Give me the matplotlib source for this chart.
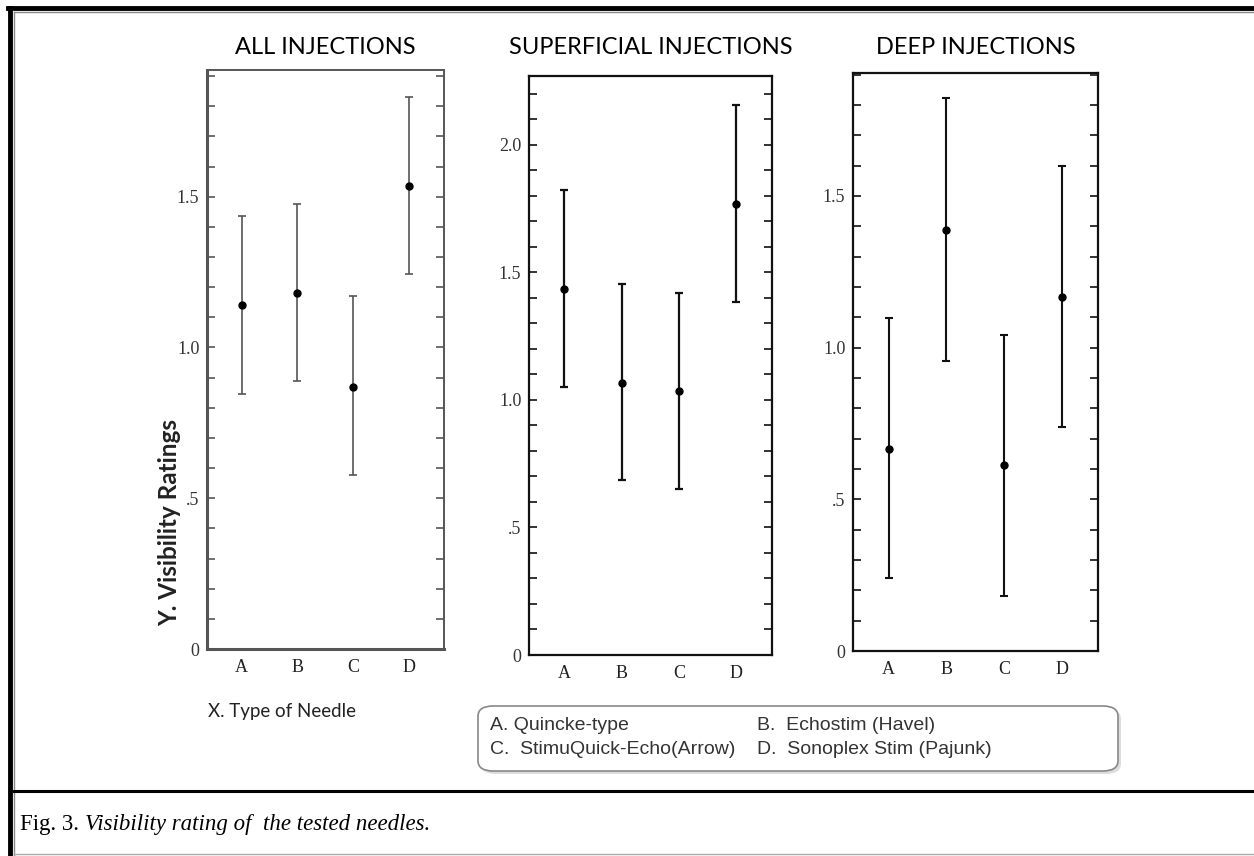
"""Visibility rating of four needle types, three panels (all / superficial / deep)."""

import matplotlib
matplotlib.use("Agg")
import matplotlib.pyplot as plt
from matplotlib.patches import FancyBboxPatch
from matplotlib.lines import Line2D
from matplotlib.ticker import MultipleLocator, FuncFormatter

NEEDLES = ["A", "B", "C", "D"]

# mean, upper and lower ends of the error bars
ALL_MEAN = [1.14, 1.18, 0.87, 1.535]
ALL_HI = [1.435, 1.475, 1.17, 1.83]
ALL_LO = [0.847, 0.889, 0.577, 1.242]

SUP_MEAN = [1.436, 1.068, 1.036, 1.77]
SUP_HI = [1.822, 1.455, 1.421, 2.155]
SUP_LO = [1.051, 0.685, 0.649, 1.383]

DEEP_MEAN = [0.667, 1.389, 0.612, 1.168]
DEEP_HI = [1.099, 1.822, 1.043, 1.599]
DEEP_LO = [0.239, 0.957, 0.18, 0.737]

TITLES = ["ALL INJECTIONS", "SUPERFICIAL INJECTIONS", "DEEP INJECTIONS"]
YMAX = [1.92, 2.27, 1.905]

LEGEND_ROWS = [
    ("A. Quincke-type", "B.  Echostim (Havel)"),
    ("C.  StimuQuick-Echo(Arrow)", "D.  Sonoplex Stim (Pajunk)"),
]
CAPTION_HEAD = "Fig. 3. "
CAPTION_BODY = "Visibility rating of  the tested needles"

W, H = 1254, 856


def box(x0, y0, x1, y1):
    """Pixel box (top-left origin) -> figure-fraction rect."""
    return [x0 / W, 1 - y1 / H, (x1 - x0) / W, (y1 - y0) / H]


def tick_fmt(v, _pos):
    if abs(v) < 1e-9:
        return "0"
    if abs(v - 0.5) < 1e-9:
        return ".5"
    return f"{v:.1f}"


fig = plt.figure(figsize=(W / 100, H / 100), dpi=100)

panels = [
    (box(207, 70, 444, 649), ALL_MEAN, ALL_HI, ALL_LO, "#555555", 1.2),
    (box(529, 76, 772, 655), SUP_MEAN, SUP_HI, SUP_LO, "#111111", 1.6),
    (box(853, 73, 1098, 651), DEEP_MEAN, DEEP_HI, DEEP_LO, "#111111", 1.5),
]

xs = list(range(1, len(NEEDLES) + 1))
for i, (rect, mean, hi, lo, col, lw) in enumerate(panels):
    ax = fig.add_axes(rect)
    yerr = [[m - l for m, l in zip(mean, lo)], [h - m for m, h in zip(mean, hi)]]
    ax.errorbar(xs, mean, yerr=yerr, fmt="o", color="black", ecolor=col,
                elinewidth=lw, capsize=2.6, capthick=lw, markersize=5)
    ax.set_xlim(0.38, 4.63)
    ax.set_ylim(0, YMAX[i])
    ax.set_xticks(xs)
    ax.set_xticklabels(NEEDLES, family="Liberation Serif", fontsize=13,
                       color="#222222")
    ax.yaxis.set_major_locator(MultipleLocator(0.5))
    ax.yaxis.set_minor_locator(MultipleLocator(0.1))
    ax.yaxis.set_major_formatter(FuncFormatter(tick_fmt))
    for lab in ax.get_yticklabels():
        lab.set_family("Liberation Serif")
        lab.set_fontsize(13)
        lab.set_color("#333333")
    ax.tick_params(axis="x", length=0, pad=7)
    ax.tick_params(axis="y", which="both", direction="in", left=True,
                   right=True, length=6, width=1.2, color=col, pad=5.5)
    for sp in ax.spines.values():
        sp.set_color(col)
        sp.set_linewidth(1.6 if i else 1.4)
    if i == 0:
        ax.spines["left"].set_linewidth(2.2)
        ax.spines["bottom"].set_linewidth(2.2)
    # titles all sit on one line, whatever the panel top
    fig.text(rect[0] + rect[2] / 2, 1 - 47 / H, TITLES[i], ha="center",
             va="center", family="Lato", fontsize=17)

fig.text(170 / W, 1 - 523 / H, "Y. Visibility Ratings", rotation=90,
         ha="center", va="center", family="Lato", fontweight="bold",
         fontsize=17.5, color="#222222")
fig.text(282 / W, 1 - 711 / H, "X. Type of Needle", ha="center",
         va="center", family="Lato", fontsize=13.5, color="#222222")

# legend box with needle names
shadow = FancyBboxPatch((481 / W, 1 - 774 / H), 640 / W, 65 / H,
                        boxstyle="round,pad=0,rounding_size=0.012",
                        transform=fig.transFigure, facecolor="#dddddd",
                        edgecolor="none", zorder=1)
legend = FancyBboxPatch((478 / W, 1 - 771 / H), 640 / W, 65 / H,
                        boxstyle="round,pad=0,rounding_size=0.012",
                        transform=fig.transFigure, facecolor="white",
                        edgecolor="#888888", linewidth=1.2, zorder=2)
fig.patches.extend([shadow, legend])
for r, (left_txt, right_txt) in enumerate(LEGEND_ROWS):
    yy = 1 - (726 + r * 23) / H
    fig.text(490 / W, yy, left_txt, family="Liberation Sans", fontsize=14,
             color="#333333", va="center", zorder=3)
    fig.text(757 / W, yy, right_txt, family="Liberation Sans", fontsize=14,
             color="#333333", va="center", zorder=3)

# page frame and caption strip
frame_lines = [
    Line2D([10 / W, 10 / W], [0, 1 - 8.3 / H], color="black", lw=3.5),
    Line2D([8.3 / W, 1], [1 - 8.3 / H, 1 - 8.3 / H], color="black", lw=3.5),
    Line2D([13.5 / W, 13.5 / W], [0, 1 - 12 / H], color="#888888", lw=1),
    Line2D([13.5 / W, 1], [1 - 12 / H, 1 - 12 / H], color="#888888", lw=1),
    Line2D([13.5 / W, 1], [1 - 791 / H, 1 - 791 / H], color="black", lw=2.2),
    Line2D([13.5 / W, 1], [1 - 854 / H, 1 - 854 / H], color="#aaaaaa", lw=1),
]
for ln in frame_lines:
    fig.add_artist(ln)

head = fig.text(20 / W, 1 - 830 / H, CAPTION_HEAD, family="Liberation Serif",
                fontsize=16.5, va="baseline")
fig.canvas.draw()
bb = head.get_window_extent()
fig.text(bb.x1 / W, 1 - 830 / H, CAPTION_BODY + ".", family="Liberation Serif",
         style="italic", fontsize=16.5, va="baseline")

fig.savefig("out.png", dpi=100)
